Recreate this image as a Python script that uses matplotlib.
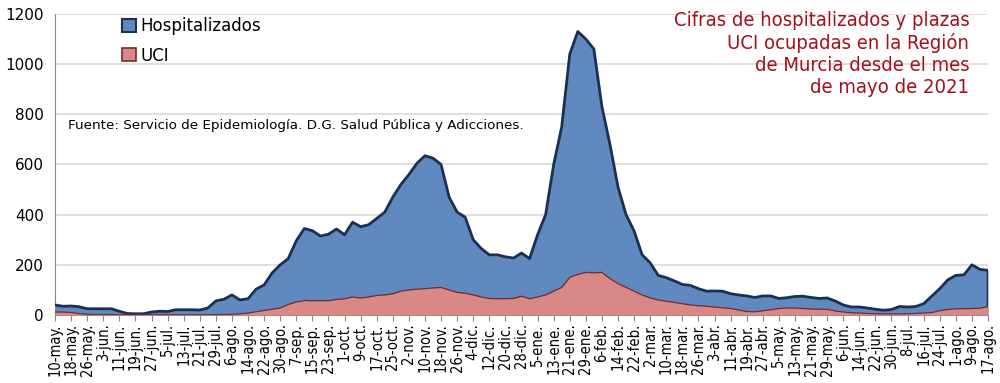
import matplotlib
matplotlib.use("Agg")
import matplotlib.pyplot as plt
from matplotlib.patches import Patch
import pandas as pd

# one reading every 4 days, starting 10 May 2021
start = "2021-05-10"
hosp = [40, 35, 36, 33, 25, 25, 25, 25, 15, 6, 5, 5, 12, 15, 14, 21, 21, 21, 20, 28,
        56, 63, 80, 60, 65, 103, 120, 168, 200, 225, 296, 345, 336, 315, 322, 343, 320, 370, 352, 360,
        385, 410, 470, 520, 560, 605, 635, 625, 600, 470, 410, 390, 300, 265, 240, 240, 232, 227, 247, 225,
        320, 400, 600, 750, 1040, 1130, 1100, 1060, 830, 680, 510, 400, 335, 240, 208, 158, 149, 136, 122, 118,
        105, 95, 96, 95, 85, 80, 76, 70, 76, 76, 66, 69, 74, 75, 70, 66, 68, 56, 40, 32,
        32, 28, 23, 19, 22, 34, 32, 34, 45, 75, 105, 140, 158, 160, 200, 182, 178]
uci = [12, 12, 10, 6, 3, 2, 2, 2, 1, 1, 1, 1, 1, 1, 1, 1, 1, 1, 1, 1,
       2, 2, 3, 5, 8, 13, 18, 23, 28, 42, 52, 58, 57, 57, 57, 62, 65, 72, 68, 72,
       78, 80, 85, 95, 100, 103, 105, 108, 110, 100, 90, 87, 80, 72, 66, 65, 65, 66, 75, 65,
       72, 80, 95, 110, 150, 162, 170, 168, 170, 145, 125, 110, 95, 80, 68, 60, 55, 50, 45, 40,
       37, 35, 32, 29, 26, 20, 14, 13, 17, 21, 26, 28, 28, 26, 24, 23, 23, 16, 12, 9,
       8, 6, 5, 5, 5, 5, 5, 6, 8, 10, 17, 22, 25, 25, 26, 27, 34]

meses = {5: "may", 6: "jun", 7: "jul", 8: "ago", 9: "sep", 10: "oct", 11: "nov",
         12: "dic", 1: "ene", 2: "feb", 3: "mar", 4: "abr"}

fechas = pd.date_range(start, periods=len(hosp), freq="4D")
dias = (fechas - fechas[0]).days
ticks = pd.date_range(start, fechas[-1], freq="8D")
tick_pos = (ticks - fechas[0]).days
tick_lab = [f"{t.day}-{meses[t.month]}." for t in ticks]

fig = plt.figure(figsize=(10, 3.83), dpi=100)
ax = fig.add_axes([0.055, 0.1775, 0.933, 0.786])

blue = "#5f89bf"
navy = "#1b3050"
pink = "#d98885"
darkred = "#7a2a2a"

ax.fill_between(dias, hosp, 0, color=blue, zorder=2, lw=0)
ax.plot(list(dias) + [dias[-1]], hosp + [0], color=navy, lw=2, zorder=3)
ax.fill_between(dias, uci, 0, color=pink, zorder=4, lw=0)
ax.plot(dias, uci, color=darkred, lw=0.9, zorder=5)

ax.set_xlim(0, dias[-1])
ax.set_ylim(0, 1200)
ax.set_yticks(range(0, 1201, 200))
ax.grid(axis="y", color="#d9d9d9", lw=1.2, zorder=0)
ax.set_axisbelow(True)
ax.tick_params(axis="y", length=0, labelsize=11, pad=8)
ax.set_xticks(tick_pos)
ax.set_xticklabels(tick_lab, rotation=90, fontsize=10.5, fontstretch="condensed")
ax.tick_params(axis="x", length=4, color="#888888", pad=2)
for s in ["top", "right"]:
    ax.spines[s].set_visible(False)
ax.spines["left"].set_color("#888888")
ax.spines["bottom"].set_color("#888888")

handles = [Patch(facecolor=blue, edgecolor=navy, lw=1.5, label="Hospitalizados"),
           Patch(facecolor=pink, edgecolor=darkred, lw=1.2, label="UCI")]
ax.legend(handles=handles, loc="upper left", bbox_to_anchor=(0.056, 1.04), frameon=False,
          fontsize=12, handlelength=0.8, handleheight=0.8, handletextpad=0.3, labelspacing=0.7)

ax.text(0.014, 0.63, "Fuente: Servicio de Epidemiología. D.G. Salud Pública y Adicciones.",
        transform=ax.transAxes, fontsize=9.7, ha="left", va="center")

ax.text(0.98, 1.01, "Cifras de hospitalizados y plazas\nUCI ocupadas en la Región\nde Murcia desde el mes\nde mayo de 2021",
        transform=ax.transAxes, ha="right", va="top", color="#a3101a", fontsize=14.5,
        family="DejaVu Sans", fontstretch="condensed", linespacing=1.2)

fig.savefig("out.png", dpi=100)
